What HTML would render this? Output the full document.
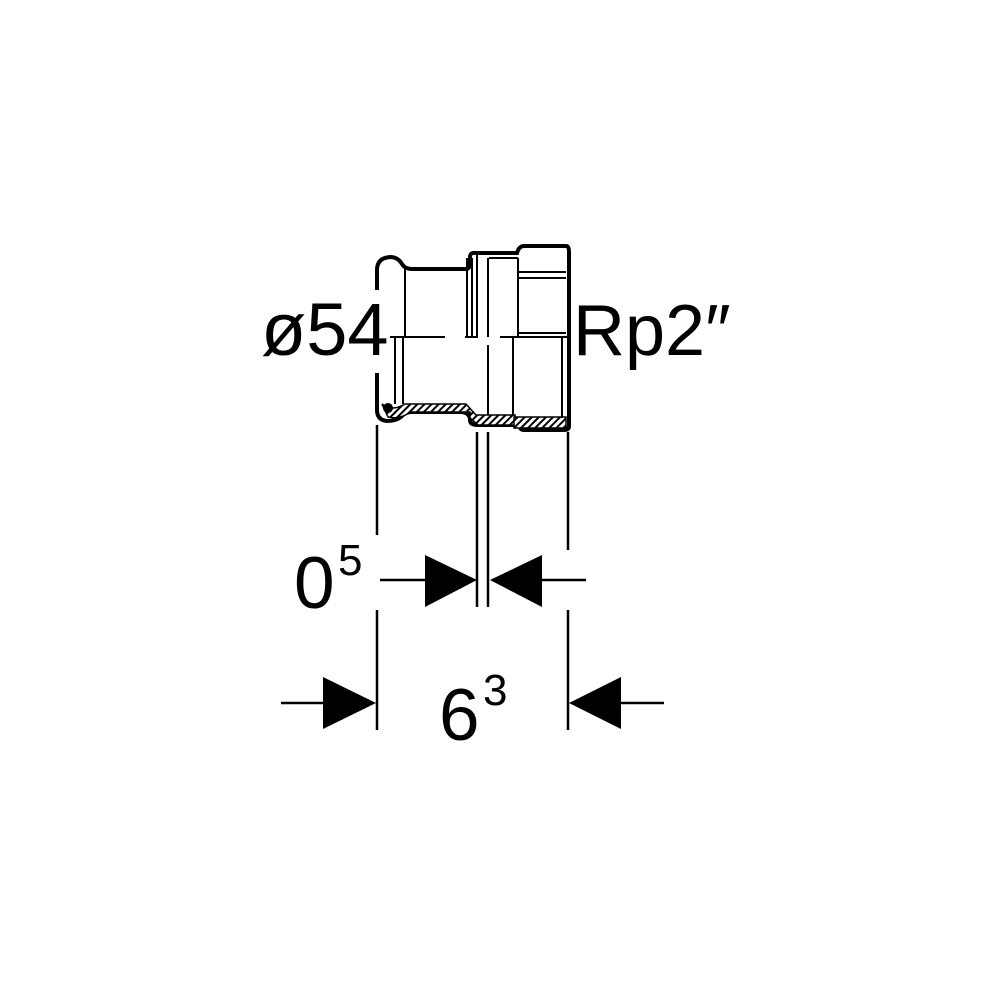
<!DOCTYPE html>
<html><head><style>
html,body{margin:0;padding:0;background:#fff}
svg{display:block}
text{font-family:"Liberation Sans",sans-serif;fill:#000}
</style></head><body>
<svg width="1000" height="1000" viewBox="0 0 1000 1000" xmlns="http://www.w3.org/2000/svg">
<defs>
<pattern id="h" width="5" height="5" patternUnits="userSpaceOnUse" patternTransform="rotate(45)">
<rect width="5" height="5" fill="#fff"/><rect width="2" height="5" fill="#000"/></pattern>
</defs>
<g fill="none" stroke="#000" stroke-linecap="butt">
<path d="M377 290 V270 Q377 258 390 257 Q398 257 402 264 Q405 269 412 269 H466 Q470 269 470 262 V257 Q470 252 476 253 H517 Q519 246 524 246 H566 Q569 246 569 252 V426 Q569 430 564 430 H524 Q520 430 519 425 H478 Q470 425 470 420 Q470 412 460 412 H412 Q405 412 401 417 Q396 421 387 421 Q377 420 377 410 V373" stroke-width="4"/>
<path d="M382 404 Q392 412 405 404 H466 L476 415 H515 V425 H478 L470 418 V412 H410 Q400 420 388 417 Z" fill="url(#h)" stroke-width="1.5"/>
<rect x="514" y="417" width="52" height="11" fill="url(#h)" stroke-width="1.5"/>
<circle cx="388" cy="408" r="5" fill="#000" stroke="none"/>
<g stroke-width="2">
<line x1="405" y1="269" x2="405" y2="337"/>
<line x1="395" y1="337" x2="395" y2="404"/>
<line x1="403" y1="337" x2="403" y2="404"/>
<line x1="467" y1="258" x2="467" y2="337"/>
<line x1="472" y1="258" x2="472" y2="337"/>
<line x1="477" y1="253" x2="477" y2="337"/>
<line x1="488" y1="258" x2="488" y2="337"/>
<line x1="488" y1="345" x2="488" y2="415"/>
<line x1="489" y1="258" x2="518" y2="258"/>
<line x1="518" y1="258" x2="518" y2="337"/>
<line x1="513" y1="337" x2="513" y2="415"/>
<line x1="518" y1="272" x2="566" y2="272"/>
<line x1="518" y1="278" x2="566" y2="278"/>
<line x1="562" y1="337" x2="562" y2="418"/>
<line x1="390" y1="337" x2="445" y2="337"/>
<line x1="465" y1="337" x2="478" y2="337"/>
<line x1="500" y1="337" x2="568" y2="337"/>
<line x1="518" y1="333" x2="566" y2="333"/>
</g>
<g stroke-width="2.5">
<line x1="377" y1="425" x2="377" y2="535"/>
<line x1="377" y1="610" x2="377" y2="730"/>
<line x1="477" y1="432" x2="477" y2="607"/>
<line x1="488" y1="432" x2="488" y2="607"/>
<line x1="568" y1="432" x2="568" y2="550"/>
<line x1="568" y1="610" x2="568" y2="730"/>
<line x1="380" y1="580" x2="430" y2="580"/>
<line x1="540" y1="580" x2="586" y2="580"/>
<line x1="281" y1="703" x2="330" y2="703"/>
<line x1="615" y1="703" x2="664" y2="703"/>
</g>
</g>
<g fill="#000">
<polygon points="425,555 477,580 425,607"/>
<polygon points="542,555 490,580 542,607"/>
<polygon points="323,677 376,703 323,729"/>
<polygon points="621,677 569,703 621,729"/>
</g>
<text x="261" y="355" font-size="74">ø54</text>
<text x="573" y="355" font-size="72">Rp2″</text>
<text x="294" y="608" font-size="73">0</text>
<text x="338" y="575" font-size="44">5</text>
<text x="439" y="740" font-size="73">6</text>
<text x="483" y="705" font-size="44">3</text>
</svg>
</body></html>
